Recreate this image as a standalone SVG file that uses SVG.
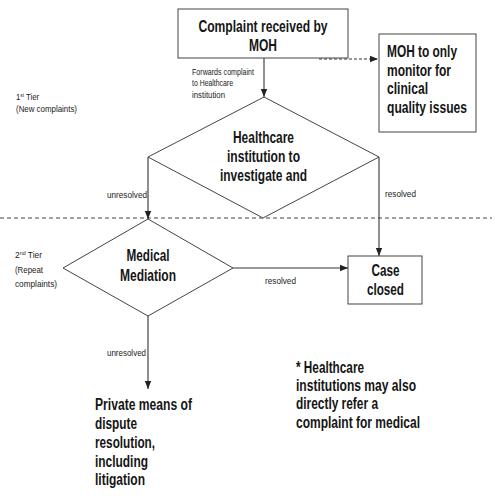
<svg xmlns="http://www.w3.org/2000/svg" width="500" height="500" viewBox="0 0 500 500">
<style>
.big{font-family:"Liberation Sans",Arial,sans-serif;font-weight:bold;font-size:16px;fill:#151515}
.sm{font-family:"Liberation Sans",Arial,sans-serif;font-size:9.5px;fill:#1a1a1a}
.box{fill:#fff;stroke:#444;stroke-width:1}
.ln{fill:none;stroke:#333;stroke-width:1.1}
.dash{fill:none;stroke:#333;stroke-width:1;stroke-dasharray:3,2}
</style>
<defs>
<marker id="ah" markerUnits="userSpaceOnUse" markerWidth="8" markerHeight="8" viewBox="0 0 8 8" refX="8" refY="4" orient="auto">
<path d="M0,0.8 L8,4 L0,7.2 Z" fill="#222"/>
</marker>
</defs>
<rect width="500" height="500" fill="#fff"/>
<line x1="0" y1="218" x2="492" y2="218" stroke="#444" stroke-width="1" stroke-dasharray="4,3"/>
<g id="tier-labels">
<text class="sm" x="16" y="100" textLength="23" lengthAdjust="spacingAndGlyphs">1<tspan font-size="6" dy="-3">st</tspan><tspan dy="3"> Tier</tspan></text>
<text class="sm" x="16" y="112" textLength="61" lengthAdjust="spacingAndGlyphs">(New complaints)</text>
<text class="sm" x="15" y="258" textLength="27" lengthAdjust="spacingAndGlyphs">2<tspan font-size="6" dy="-3">nd</tspan><tspan dy="3"> Tier</tspan></text>
<text class="sm" x="15" y="273" textLength="28" lengthAdjust="spacingAndGlyphs">(Repeat</text>
<text class="sm" x="15" y="287" textLength="42" lengthAdjust="spacingAndGlyphs">complaints)</text>
</g>
<g id="connectors">
<line class="ln" x1="264" y1="58" x2="264" y2="97" marker-end="url(#ah)"/>
<polyline class="dash" points="318,45 318,59 378,59" marker-end="url(#ah)"/>
<line class="ln" x1="148" y1="157" x2="148" y2="219" marker-end="url(#ah)"/>
<line class="ln" x1="379" y1="157" x2="379" y2="256" marker-end="url(#ah)"/>
<line class="ln" x1="233" y1="268" x2="348" y2="268" marker-end="url(#ah)"/>
<line class="ln" x1="148" y1="316" x2="148" y2="389" marker-end="url(#ah)"/>
<text class="sm" x="192" y="75" textLength="62" lengthAdjust="spacingAndGlyphs">Forwards complaint</text>
<text class="sm" x="192" y="86" textLength="41" lengthAdjust="spacingAndGlyphs">to Healthcare</text>
<text class="sm" x="192" y="98" textLength="33" lengthAdjust="spacingAndGlyphs">institution</text>
<text class="sm" x="107" y="198" textLength="40" lengthAdjust="spacingAndGlyphs">unresolved</text>
<text class="sm" x="385" y="197" textLength="31" lengthAdjust="spacingAndGlyphs">resolved</text>
<text class="sm" x="265" y="284" textLength="31" lengthAdjust="spacingAndGlyphs">resolved</text>
<text class="sm" x="107" y="356" textLength="39" lengthAdjust="spacingAndGlyphs">unresolved</text>
</g>
<g id="complaint">
<rect class="box" x="178" y="9" width="170" height="49"/>
<text class="big" x="263" y="32" font-size="16.5" text-anchor="middle" textLength="129" lengthAdjust="spacingAndGlyphs">Complaint received by</text>
<text class="big" x="263" y="51" font-size="16.5" text-anchor="middle" textLength="28" lengthAdjust="spacingAndGlyphs">MOH</text>
</g>
<g id="moh-monitor">
<rect class="box" x="379" y="34" width="97" height="98"/>
<text class="big" x="387" y="57" font-size="17" textLength="70" lengthAdjust="spacingAndGlyphs">MOH to only</text>
<text class="big" x="387" y="75.5" font-size="17" textLength="64" lengthAdjust="spacingAndGlyphs">monitor for</text>
<text class="big" x="387" y="94" font-size="17" textLength="41" lengthAdjust="spacingAndGlyphs">clinical</text>
<text class="big" x="387" y="112.5" font-size="17" textLength="80" lengthAdjust="spacingAndGlyphs">quality issues</text>
</g>
<g id="investigate">
<polygon class="box" points="264,97 379,157 263,218 148,157"/>
<text class="big" x="263.5" y="143" text-anchor="middle" textLength="61" lengthAdjust="spacingAndGlyphs">Healthcare</text>
<text class="big" x="263.5" y="162" text-anchor="middle" textLength="73" lengthAdjust="spacingAndGlyphs">institution to</text>
<text class="big" x="263.5" y="181" text-anchor="middle" textLength="87" lengthAdjust="spacingAndGlyphs">investigate and</text>
</g>
<g id="mediation">
<polygon class="box" points="148,219 233,268 148,316 63,268"/>
<text class="big" x="148" y="261" font-size="17" text-anchor="middle" textLength="43" lengthAdjust="spacingAndGlyphs">Medical</text>
<text class="big" x="148" y="281" font-size="17" text-anchor="middle" textLength="56" lengthAdjust="spacingAndGlyphs">Mediation</text>
</g>
<g id="case-closed">
<rect class="box" x="348" y="256" width="74" height="48"/>
<text class="big" x="385.5" y="276" text-anchor="middle" textLength="28" lengthAdjust="spacingAndGlyphs">Case</text>
<text class="big" x="385.5" y="295" text-anchor="middle" textLength="37" lengthAdjust="spacingAndGlyphs">closed</text>
</g>
<g id="private">
<text class="big" x="95" y="410" textLength="97" lengthAdjust="spacingAndGlyphs">Private means of</text>
<text class="big" x="95" y="429" textLength="42" lengthAdjust="spacingAndGlyphs">dispute</text>
<text class="big" x="95" y="448" textLength="60" lengthAdjust="spacingAndGlyphs">resolution,</text>
<text class="big" x="95" y="467" textLength="53" lengthAdjust="spacingAndGlyphs">including</text>
<text class="big" x="95" y="485" textLength="50" lengthAdjust="spacingAndGlyphs">litigation</text>
</g>
<g id="footnote">
<text class="big" x="296" y="373" textLength="68" lengthAdjust="spacingAndGlyphs">* Healthcare</text>
<text class="big" x="296" y="391" textLength="120" lengthAdjust="spacingAndGlyphs">institutions may also</text>
<text class="big" x="296" y="409" textLength="82" lengthAdjust="spacingAndGlyphs">directly refer a</text>
<text class="big" x="296" y="428" textLength="124" lengthAdjust="spacingAndGlyphs">complaint for medical</text>
</g>
</svg>
